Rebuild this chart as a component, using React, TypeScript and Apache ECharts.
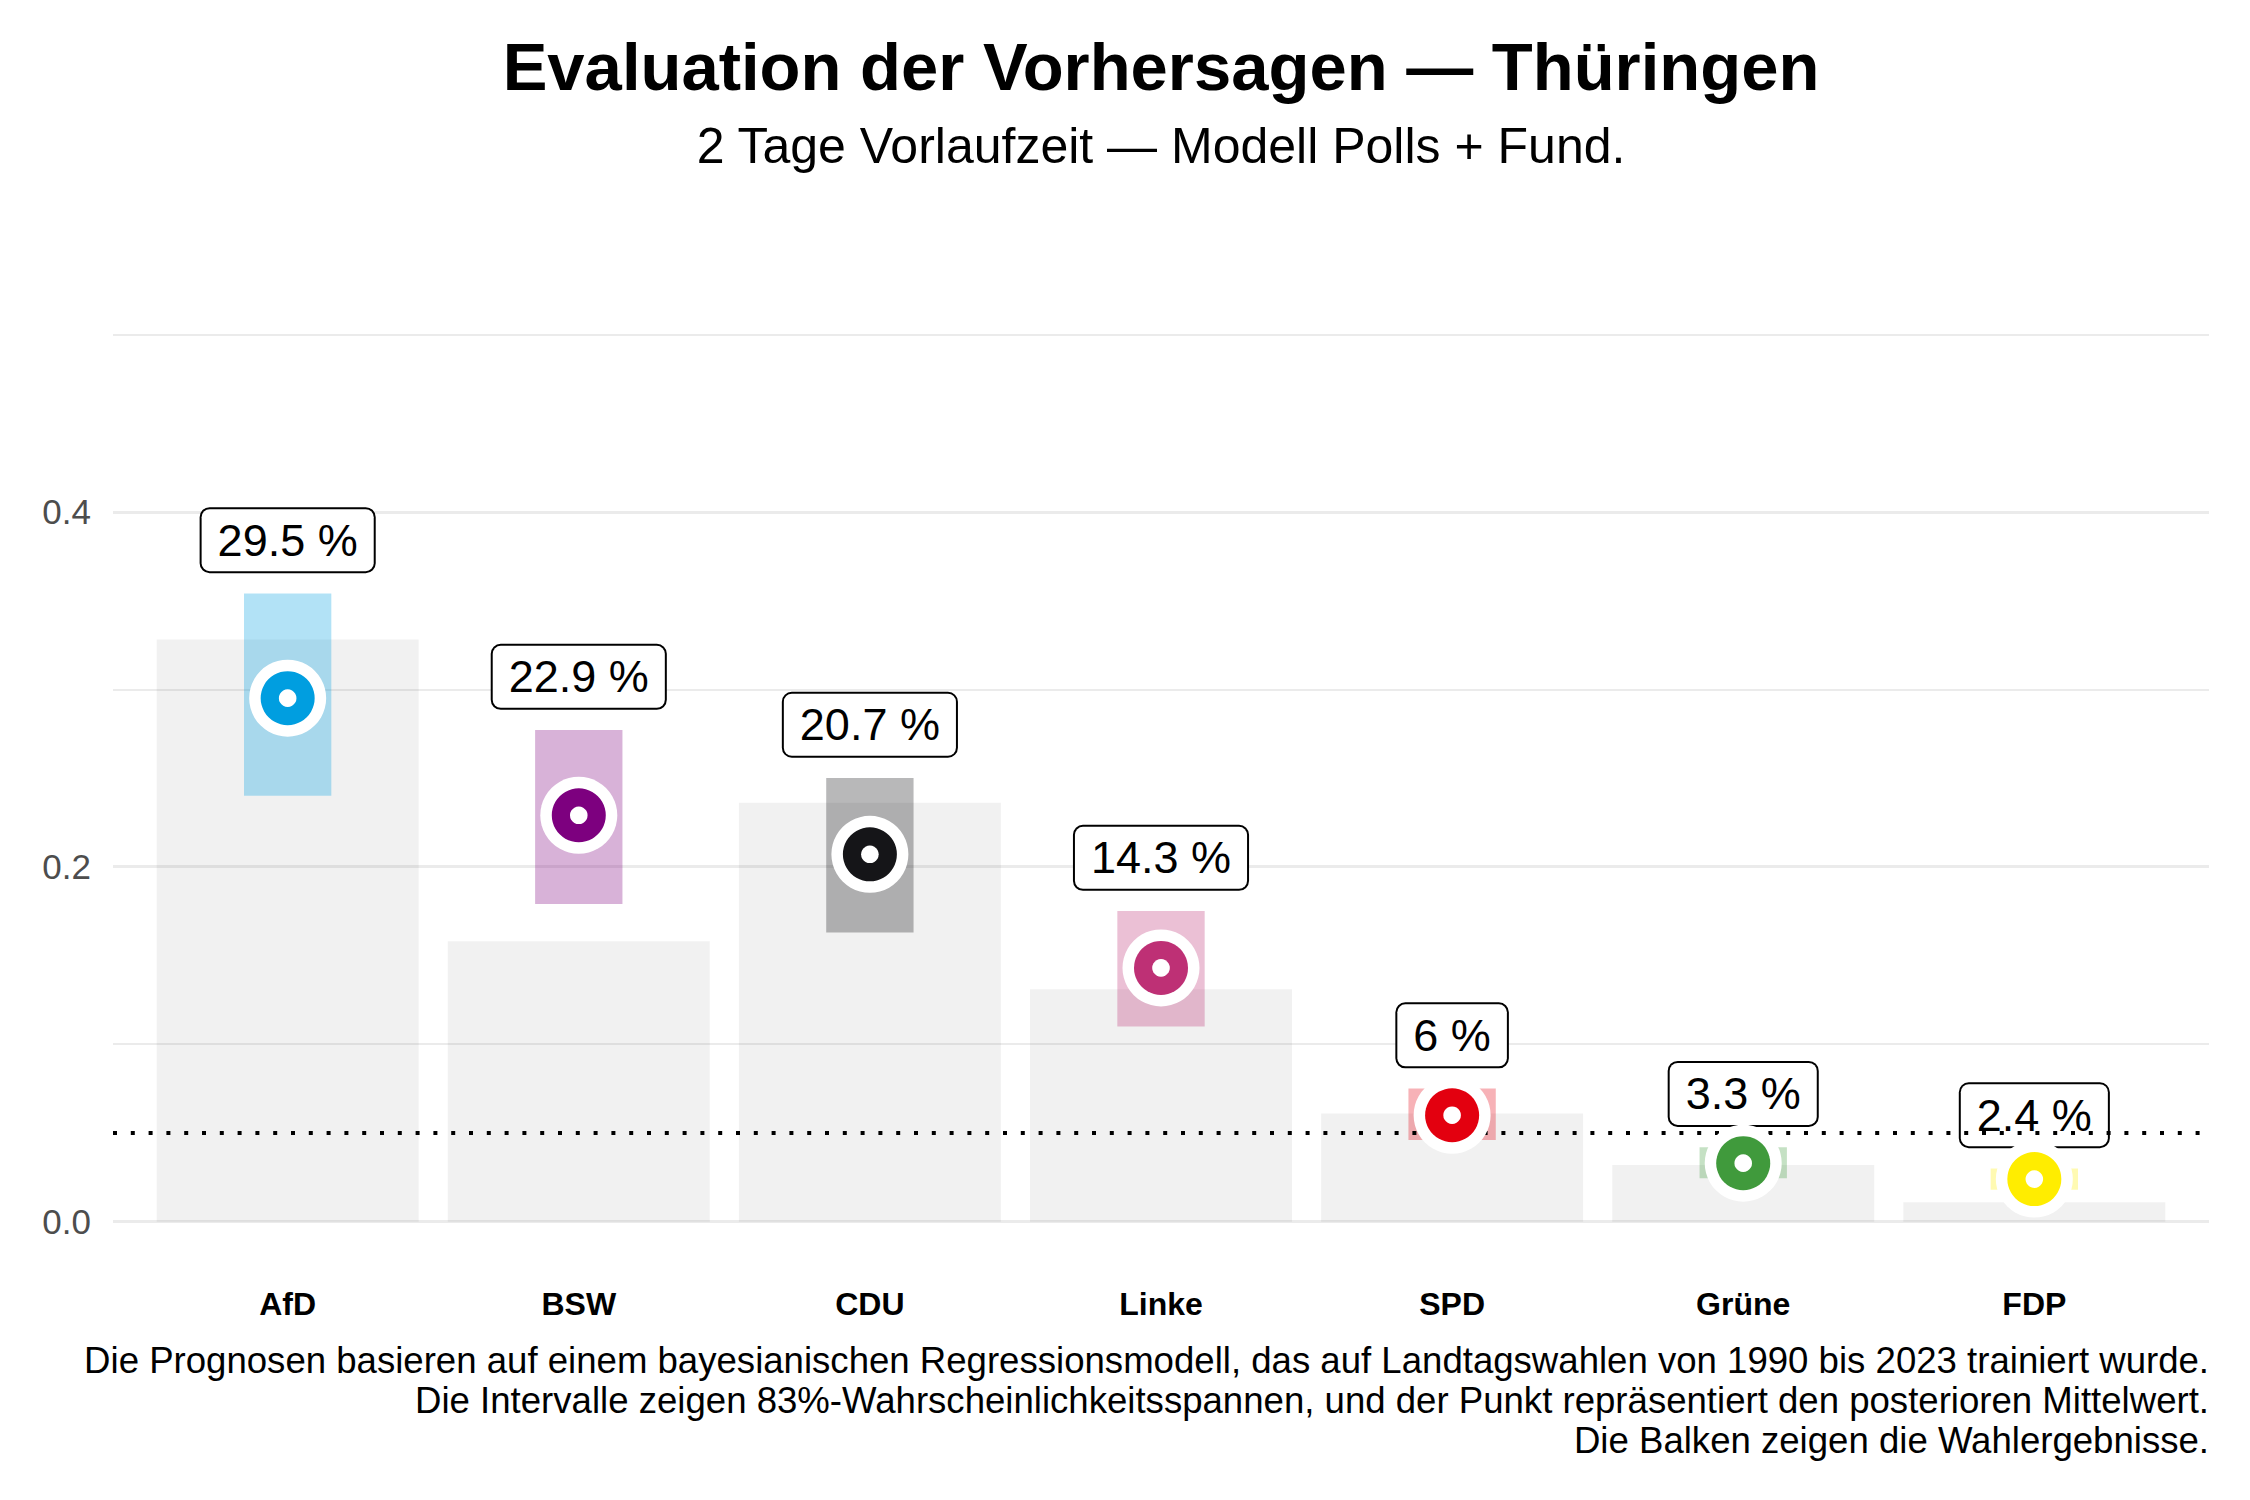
import React, { useEffect, useRef } from "react";
import * as echarts from "echarts";

// ---- data ----
const parties = ["AfD", "BSW", "CDU", "Linke", "SPD", "Grüne", "FDP"];
const partyColors = ["#009EE0", "#7D007F", "#151518", "#BE3075", "#E3000F", "#409A3C", "#FFED00"];
const results = [0.328, 0.158, 0.236, 0.131, 0.061, 0.032, 0.011];
const forecastMean = [0.295, 0.229, 0.207, 0.143, 0.06, 0.033, 0.024];
const intervalLower = [0.24, 0.179, 0.163, 0.11, 0.046, 0.0245, 0.018];
const intervalUpper = [0.354, 0.277, 0.25, 0.175, 0.075, 0.042, 0.03];
const forecastLabels = ["29.5 %", "22.9 %", "20.7 %", "14.3 %", "6 %", "3.3 %", "2.4 %"];
const yTickLabels = ["0.0", "0.2", "0.4"];
const threshold = 0.05;
const labelOffset = 0.03;

const titleText = "Evaluation der Vorhersagen — Thüringen";
const subtitleText = "2 Tage Vorlaufzeit — Modell Polls + Fund.";
const captionLines = [
  "Die Prognosen basieren auf einem bayesianischen Regressionsmodell, das auf Landtagswahlen von 1990 bis 2023 trainiert wurde.",
  "Die Intervalle zeigen 83%-Wahrscheinlichkeitsspannen, und der Punkt repräsentiert den posterioren Mittelwert.",
  "Die Balken zeigen die Wahlergebnisse.",
];

const FF = '"Liberation Sans", Arial, Helvetica, sans-serif';

export default function App() {
  const ref = useRef<HTMLDivElement>(null);

  useEffect(() => {
    document.body.style.margin = "0";
    if (!ref.current) return;
    const chart = echarts.init(ref.current, null, { renderer: "svg" });

    const idx = parties.map((_, i) => i);
    const barData = idx.map((i) => [i, results[i]]);
    const intervalData = idx.map((i) => [i, intervalLower[i], intervalUpper[i]]);
    const labelData = idx.map((i) => [i, intervalUpper[i] + labelOffset]);
    const pointData = idx.map((i) => [i, forecastMean[i]]);

    const gridLeft = 113;
    const gridRight = 2209;

    const option: any = {
      animation: false,
      backgroundColor: "#ffffff",
      grid: { left: gridLeft, right: 2250 - gridRight, top: 334.3, bottom: 278.3, containLabel: false, outerBoundsMode: "none" },
      xAxis: {
        type: "value",
        min: -0.6,
        max: 6.6,
        axisLine: { show: false },
        axisTick: { show: false },
        splitLine: { show: false },
        axisLabel: {
          customValues: idx,
          formatter: (v: number) => parties[Math.round(v)] ?? "",
          fontSize: 32,
          fontWeight: "bold",
          fontFamily: FF,
          color: "#000000",
          margin: 82,
          verticalAlign: "middle",
        },
      },
      yAxis: [
        {
          type: "value",
          min: 0,
          max: 0.5,
          interval: 0.1,
          axisLine: { show: false },
          axisTick: { show: false },
          splitLine: { show: true, lineStyle: { color: "#ebebeb", width: 1.8 } },
          axisLabel: {
            fontSize: 35,
            fontFamily: FF,
            color: "#4d4d4d",
            margin: 22,
            formatter: (v: number) => {
              const k = Math.round(v * 10);
              return k % 2 === 0 ? yTickLabels[k / 2] ?? "" : "";
            },
          },
        },
        {
          type: "value",
          min: 0,
          max: 0.5,
          interval: 0.2,
          position: "left",
          axisLine: { show: false },
          axisTick: { show: false },
          axisLabel: { show: false },
          splitLine: {
            show: true,
            showMaxLine: false,
            lineStyle: { color: ["#ebebeb", "#ebebeb", "#ebebeb", "rgba(0,0,0,0)"], width: 3 },
          },
        },
      ],
      series: [
        {
          type: "custom",
          z: 2,
          data: barData,
          encode: { x: 0, y: 1 },
          renderItem: (_p: any, api: any) => {
            const i = api.value(0);
            const v = api.value(1);
            const a = api.coord([i - 0.45, v]);
            const b = api.coord([i + 0.45, 0]);
            return {
              type: "rect",
              shape: { x: a[0], y: a[1], width: b[0] - a[0], height: b[1] - a[1] },
              style: { fill: "rgba(0,0,0,0.055)" },
            };
          },
        },
        {
          type: "custom",
          z: 3,
          data: intervalData,
          encode: { x: 0, y: [1, 2] },
          renderItem: (_p: any, api: any) => {
            const i = api.value(0);
            const lo = api.value(1);
            const hi = api.value(2);
            const a = api.coord([i - 0.15, hi]);
            const b = api.coord([i + 0.15, lo]);
            return {
              type: "rect",
              shape: { x: a[0], y: a[1], width: b[0] - a[0], height: b[1] - a[1] },
              style: { fill: partyColors[i], opacity: 0.3 },
            };
          },
        },
        {
          type: "custom",
          z: 4,
          data: labelData,
          encode: { x: 0, y: 1 },
          renderItem: (_p: any, api: any) => {
            const i = api.value(0);
            const p = api.coord([i, api.value(1)]);
            return {
              type: "text",
              style: {
                x: p[0],
                y: p[1],
                text: forecastLabels[i],
                font: `45px ${FF}`,
                fill: "#000000",
                align: "center",
                verticalAlign: "middle",
                lineHeight: 46,
                backgroundColor: "#ffffff",
                borderColor: "#000000",
                borderWidth: 2,
                borderRadius: 8,
                padding: [8, 16],
              },
            };
          },
        },
        {
          type: "custom",
          z: 5,
          data: [[-0.6, threshold, 6.6]],
          encode: { x: [0, 2], y: 1 },
          renderItem: (_p: any, api: any) => {
            const a = api.coord([api.value(0), api.value(1)]);
            const b = api.coord([api.value(2), api.value(1)]);
            return {
              type: "line",
              shape: { x1: a[0], y1: a[1], x2: b[0], y2: b[1] },
              style: { stroke: "#000000", lineWidth: 4, lineDash: [4, 13.8], lineCap: "butt" },
            };
          },
        },
        {
          type: "custom",
          z: 6,
          data: pointData,
          encode: { x: 0, y: 1 },
          renderItem: (_p: any, api: any) => {
            const i = api.value(0);
            const c = api.coord([i, api.value(1)]);
            return {
              type: "group",
              children: [
                { type: "circle", shape: { cx: c[0], cy: c[1], r: 38.5 }, style: { fill: "#ffffff" } },
                { type: "circle", shape: { cx: c[0], cy: c[1], r: 27 }, style: { fill: partyColors[i] } },
                { type: "circle", shape: { cx: c[0], cy: c[1], r: 8.8 }, style: { fill: "#ffffff" } },
              ],
            };
          },
        },
      ],
      graphic: [
        {
          type: "text",
          x: (gridLeft + gridRight) / 2,
          y: 66.7,
          style: {
            text: titleText,
            font: `bold 67px ${FF}`,
            fill: "#000000",
            align: "center",
            verticalAlign: "middle",
          },
        },
        {
          type: "text",
          x: (gridLeft + gridRight) / 2,
          y: 145.8,
          style: {
            text: subtitleText,
            font: `50px ${FF}`,
            fill: "#000000",
            align: "center",
            verticalAlign: "middle",
          },
        },
        ...captionLines.map((t, k) => ({
          type: "text",
          x: gridRight,
          y: 1360 + k * 40,
          style: {
            text: t,
            font: `36.6px ${FF}`,
            fill: "#000000",
            align: "right",
            verticalAlign: "middle",
          },
        })),
      ],
    };

    chart.setOption(option);
    return () => chart.dispose();
  }, []);

  return <div ref={ref} style={{ width: 2250, height: 1500 }} />;
}
